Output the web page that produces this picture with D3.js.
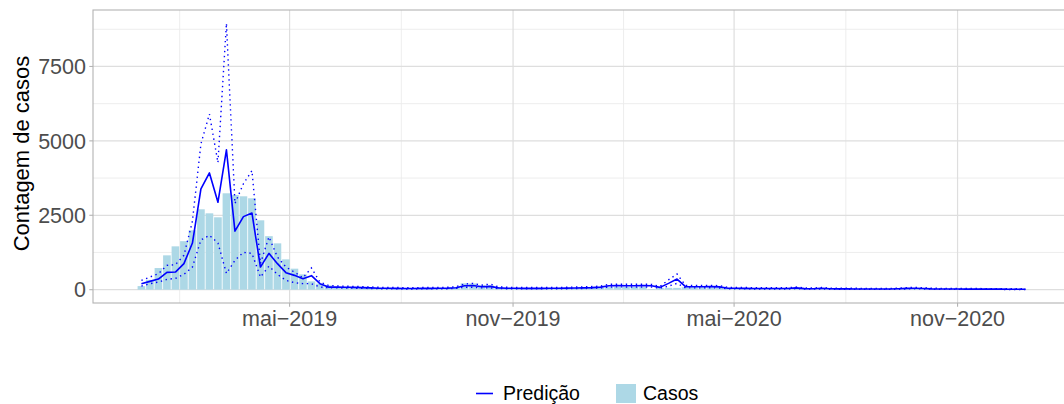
<!DOCTYPE html>
<html>
<head>
<meta charset="utf-8">
<script src="https://cdn.jsdelivr.net/npm/d3@7"></script>
<style>
  html, body { margin: 0; padding: 0; background: #fff; }
  svg text { font-family: "Liberation Sans", Arial, sans-serif; }
</style>
</head>
<body>
<svg id="chart" width="1064" height="404"></svg>
<script>
// ─── Data: weekly series, first week starting 2018-12-30 ───
const FIRST_WEEK = '2018-12-30';

const casos = [
  121, 330, 727, 1154, 1456, 1630, 1995, 2701, 2566, 2432,
  3239, 3180, 3138, 3071, 2331, 1798, 1557, 1019, 706, 515,
  279, 202, 145,
  87, 77, 70, 60, 52, 45, 42, 40, 38, 36, 38, 40, 42, 48,
  85, 215, 210, 150, 145, 80,
  55, 50, 48, 46, 45, 44, 46, 48, 52, 58, 62, 70,
  85, 92, 95, 90, 88, 20, 60, 62, 60, 82, 80, 78, 80, 75,
  45, 42, 40, 38, 36, 35, 34, 33, 50,
  30, 28, 40, 26, 24, 22, 20, 20, 18, 18, 17, 20, 38, 40, 36, 22, 18, 16, 15, 15,
  14, 14, 13, 12, 12, 12, 10
];

const predicao = [
  202, 279, 357, 582, 592, 874, 1568, 3385, 3922, 2937,
  4700, 1966, 2455, 2578, 760, 1220, 874, 572, 481, 370,
  471, 202, 87,
  87, 80, 77, 70, 60, 50, 46, 44, 42, 42, 43, 44, 46, 52,
  65, 130, 138, 100, 110, 62,
  50, 46, 44, 44, 45, 46, 48, 52, 58, 62, 70, 85,
  130, 136, 134, 132, 135, 130, 77, 212, 357, 100, 98, 100, 102, 95,
  50, 46, 44, 42, 42, 40, 40, 38, 60,
  34, 32, 46, 30, 28, 26, 25, 24, 23, 22, 22, 30, 44, 46, 42, 28, 24, 22, 21, 20,
  20, 19, 18, 18, 17, 17, 16
];

const superior = [
  313, 424, 538, 817, 841, 1154, 2300, 4900, 5900, 4270,
  8950, 2893, 3560, 4000, 880, 1770, 1097, 760, 592, 400,
  727, 256, 145,
  125, 115, 110, 100, 90, 80, 75, 72, 70, 70, 71, 72, 75, 82,
  100, 190, 212, 150, 190, 95,
  80, 74, 72, 72, 73, 74, 76, 82, 90, 96, 105, 120,
  180, 185, 182, 180, 184, 178, 110, 330, 525, 145, 140, 142, 145, 135,
  80, 74, 72, 70, 70, 68, 68, 66, 90,
  58, 55, 72, 52, 50, 48, 46, 45, 44, 42, 42, 52, 70, 72, 68, 50, 45, 42, 40, 39,
  38, 37, 36, 35, 34, 33, 32
];

const inferior = [
  121, 202, 256, 346, 380, 515, 760, 1670, 1826, 1570,
  545, 986, 1255, 1220, 424, 790, 515, 313, 235, 202,
  202, 87, 67,
  60, 55, 50, 45, 40, 32, 28, 26, 25, 25, 26, 27, 28, 32,
  42, 85, 80, 60, 60, 38,
  30, 27, 26, 26, 27, 28, 29, 32, 36, 40, 45, 55,
  90, 94, 92, 90, 92, 88, 50, 120, 212, 62, 60, 62, 64, 58,
  30, 27, 26, 25, 25, 24, 24, 23, 35,
  18, 17, 26, 16, 15, 14, 13, 13, 12, 12, 11, 16, 26, 27, 25, 15, 13, 12, 11, 10,
  10, 10, 9, 9, 8, 8, 8
];

// axis ticks
const xTickDates  = ['2019-05-01', '2019-11-01', '2020-05-01', '2020-11-01'];
const xTickLabels = ['mai\u22122019', 'nov\u22122019', 'mai\u22122020', 'nov\u22122020'];
const yTicks      = [0, 2500, 5000, 7500];
const yTickLabels = ['0', '2500', '5000', '7500'];
const yMinor      = [1250, 3750, 6250, 8750];

// ─── Layout ───────────────────────────────────────────
const P = { left: 93, right: 1074, top: 10, bottom: 303 };
const BLUE = '#0000FF';
const BAR = '#ADD8E6';

const parse = d3.utcParse('%Y-%m-%d');
const start = parse(FIRST_WEEK);
const weeks = casos.map((_, i) => d3.utcDay.offset(start, i * 7));
const HALF_BAR = 3.15 * 864e5; // 0.9 * 7 days / 2

// x scale with ggplot-style 5% expansion
const xLo = +weeks[0] - HALF_BAR, xHi = +weeks[weeks.length - 1] + HALF_BAR;
const xPad = (xHi - xLo) * 0.05;
const x = d3.scaleUtc()
  .domain([new Date(xLo - xPad), new Date(xHi + xPad)])
  .range([P.left, P.right]);

const yMax = d3.max(superior);
const y = d3.scaleLinear()
  .domain([-yMax * 0.05, yMax * 1.05])
  .range([P.bottom, P.top]);

const svg = d3.select('#chart');

svg.append('defs').append('clipPath').attr('id', 'panel-clip')
  .append('rect')
  .attr('x', P.left).attr('y', P.top)
  .attr('width', P.right - P.left).attr('height', P.bottom - P.top);

// ─── Grid ─────────────────────────────────────────────
const grid = svg.append('g').attr('clip-path', 'url(#panel-clip)');
const majorDates = xTickDates.map(parse);
const extDates = [d3.utcMonth.offset(majorDates[0], -6), ...majorDates, d3.utcMonth.offset(majorDates[3], 6)];
const minorDates = d3.pairs(extDates).map(([a, b]) => new Date((+a + +b) / 2));

grid.selectAll('.vminor').data(minorDates).enter().append('line')
  .attr('x1', d => x(d)).attr('x2', d => x(d))
  .attr('y1', P.top).attr('y2', P.bottom)
  .attr('stroke', '#ebebeb').attr('stroke-width', 0.9);
grid.selectAll('.hminor').data(yMinor).enter().append('line')
  .attr('x1', P.left).attr('x2', P.right)
  .attr('y1', d => y(d)).attr('y2', d => y(d))
  .attr('stroke', '#ebebeb').attr('stroke-width', 0.9);
grid.selectAll('.vmajor').data(majorDates).enter().append('line')
  .attr('x1', d => x(d)).attr('x2', d => x(d))
  .attr('y1', P.top).attr('y2', P.bottom)
  .attr('stroke', '#dedede').attr('stroke-width', 1.2);
grid.selectAll('.hmajor').data(yTicks).enter().append('line')
  .attr('x1', P.left).attr('x2', P.right)
  .attr('y1', d => y(d)).attr('y2', d => y(d))
  .attr('stroke', '#dedede').attr('stroke-width', 1.2);

// ─── Marks ────────────────────────────────────────────
const marks = svg.append('g').attr('clip-path', 'url(#panel-clip)');

marks.selectAll('.bar').data(casos).enter().append('rect')
  .attr('x', (d, i) => x(new Date(+weeks[i] - HALF_BAR)))
  .attr('width', (d, i) => x(new Date(+weeks[i] + HALF_BAR)) - x(new Date(+weeks[i] - HALF_BAR)))
  .attr('y', d => y(d))
  .attr('height', d => y(0) - y(d))
  .attr('fill', BAR);

const line = d3.line().x((d, i) => x(weeks[i])).y(d => y(d));

[inferior, superior].forEach(series => {
  marks.append('path')
    .attr('d', line(series))
    .attr('fill', 'none')
    .attr('stroke', BLUE)
    .attr('stroke-width', 1.4)
    .attr('stroke-dasharray', '1.4,3.6');
});

marks.append('path')
  .attr('d', line(predicao))
  .attr('fill', 'none')
  .attr('stroke', BLUE)
  .attr('stroke-width', 1.6)
  .attr('stroke-linejoin', 'round');

// ─── Panel border ─────────────────────────────────────
svg.append('rect')
  .attr('x', P.left).attr('y', P.top)
  .attr('width', P.right - P.left).attr('height', P.bottom - P.top)
  .attr('fill', 'none').attr('stroke', '#b3b3b3').attr('stroke-width', 1.1);

// ─── Axes ─────────────────────────────────────────────
const xAxis = svg.append('g');
xAxis.selectAll('line').data(majorDates).enter().append('line')
  .attr('x1', d => x(d)).attr('x2', d => x(d))
  .attr('y1', P.bottom).attr('y2', P.bottom + 3.7)
  .attr('stroke', '#b3b3b3').attr('stroke-width', 1.1);
xAxis.selectAll('text').data(majorDates).enter().append('text')
  .attr('x', d => x(d)).attr('y', 326)
  .attr('text-anchor', 'middle')
  .attr('font-size', 21.5).attr('fill', '#4d4d4d')
  .text((d, i) => xTickLabels[i]);

const yAxis = svg.append('g');
yAxis.selectAll('line').data(yTicks).enter().append('line')
  .attr('x1', P.left - 3.7).attr('x2', P.left)
  .attr('y1', d => y(d)).attr('y2', d => y(d))
  .attr('stroke', '#b3b3b3').attr('stroke-width', 1.1);
yAxis.selectAll('text').data(yTicks).enter().append('text')
  .attr('x', 86).attr('y', d => y(d))
  .attr('dy', '0.36em')
  .attr('text-anchor', 'end')
  .attr('font-size', 21.5).attr('fill', '#4d4d4d')
  .text((d, i) => yTickLabels[i]);

svg.append('text')
  .attr('transform', `translate(28.5, ${(P.top + P.bottom) / 2 - 3}) rotate(-90)`)
  .attr('text-anchor', 'middle')
  .attr('font-size', 22).attr('fill', '#000')
  .text('Contagem de casos');

// ─── Legend ───────────────────────────────────────────
const legend = svg.append('g');
legend.append('line')
  .attr('x1', 476).attr('x2', 493).attr('y1', 393.5).attr('y2', 393.5)
  .attr('stroke', BLUE).attr('stroke-width', 1.6);
legend.append('text')
  .attr('x', 503).attr('y', 400)
  .attr('font-size', 19.5).attr('fill', '#000')
  .text('Predição');
legend.append('rect')
  .attr('x', 616).attr('y', 384).attr('width', 20).attr('height', 19)
  .attr('fill', BAR);
legend.append('text')
  .attr('x', 643).attr('y', 400)
  .attr('font-size', 19.5).attr('fill', '#000')
  .text('Casos');
</script>
</body>
</html>
